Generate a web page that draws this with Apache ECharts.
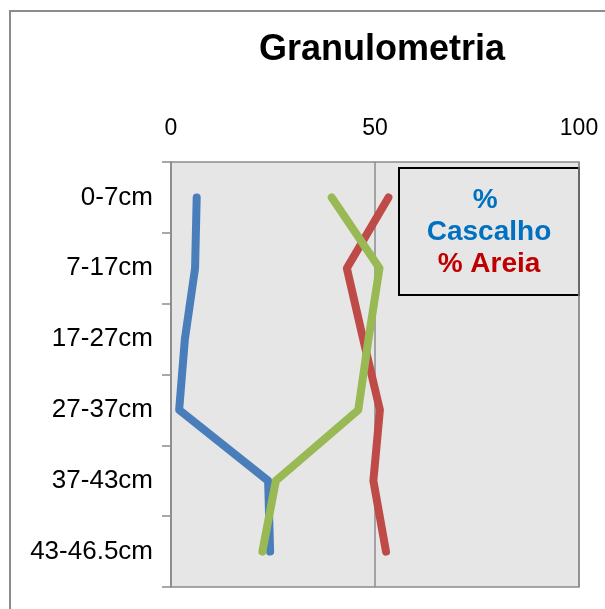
<!DOCTYPE html>
<html>
<head>
<meta charset="utf-8">
<script src="https://cdn.jsdelivr.net/npm/echarts@6/dist/echarts.min.js"></script>
<style>
  html, body { margin: 0; padding: 0; background: #fff; }
  #chart { width: 605px; height: 609px; }
</style>
</head>
<body>
<div id="chart"></div>
<script>
// Depth intervals of the soil profile (top to bottom)
const depths = ['0-7cm', '7-17cm', '17-27cm', '27-37cm', '37-43cm', '43-46.5cm'];

// Particle-size fractions (%) per depth interval
const cascalho = [6.3, 5.9, 3.4, 2.0, 23.8, 24.3];
const areia = [53.3, 43.1, 47.1, 51.2, 49.6, 52.7];
const silteArgila = [39.4, 51.1, 48.4, 45.9, 25.7, 22.4];

const xTicks = [0, 50, 100];

const seriesNames = ['% Cascalho', '% Areia', '% Silte+Argila'];
const lineColors = ['#4A7EBB', '#BE4B48', '#98B954'];
const keyColors = ['#0070C0', '#C00000'];

const FONT = '"Liberation Sans", Arial, sans-serif';

const chart = echarts.init(document.getElementById('chart'), null, { renderer: 'canvas' });

function lineSeries(name, data, color) {
  return {
    name: name,
    type: 'line',
    data: data,
    symbol: 'none',
    lineStyle: { color: color, width: 8, cap: 'round', join: 'round' },
    itemStyle: { color: color },
    z: 3
  };
}

chart.setOption({
  backgroundColor: '#ffffff',
  animation: false,
  title: {
    text: 'Granulometria',
    left: 377,
    top: 27,
    textAlign: 'center',
    textStyle: { fontFamily: FONT, fontSize: 36, fontWeight: 'bold', color: '#000' }
  },
  grid: {
    left: 171,
    top: 162,
    width: 408,
    height: 425,
    show: true,
    backgroundColor: '#E6E6E6',
    borderColor: '#8C8C8C',
    borderWidth: 1.5
  },
  xAxis: {
    type: 'value',
    position: 'top',
    min: xTicks[0],
    max: xTicks[xTicks.length - 1],
    interval: xTicks[1] - xTicks[0],
    axisLine: { show: false },
    axisTick: { show: false },
    axisLabel: {
      margin: 22,
      fontFamily: FONT,
      fontSize: 23,
      color: '#000'
    },
    splitLine: { show: true, lineStyle: { color: '#8C8C8C', width: 1.5 } }
  },
  yAxis: {
    type: 'category',
    data: depths,
    inverse: true,
    boundaryGap: true,
    axisLine: { show: true, lineStyle: { color: '#8C8C8C', width: 1.5 } },
    axisTick: { show: true, length: 9, inside: false, lineStyle: { color: '#8C8C8C', width: 1.5 } },
    axisLabel: {
      margin: 18,
      fontFamily: FONT,
      fontSize: 26,
      color: '#000'
    },
    splitLine: { show: false }
  },
  series: [
    lineSeries(seriesNames[0], cascalho, lineColors[0]),
    lineSeries(seriesNames[1], areia, lineColors[1]),
    lineSeries(seriesNames[2], silteArgila, lineColors[2])
  ],
  graphic: [
    {
      // outer chart frame
      type: 'rect',
      shape: { x: 10, y: 11, width: 800, height: 800 },
      style: { fill: 'none', stroke: '#8C8C8C', lineWidth: 2 },
      silent: true,
      z: 0
    },
    {
      // key box
      type: 'group',
      left: 398,
      top: 167,
      z: 10,
      children: [
        {
          type: 'rect',
          shape: { x: 0, y: 0, width: 180, height: 127 },
          style: { fill: '#E6E6E6', stroke: '#000', lineWidth: 2 }
        },
        {
          type: 'text',
          x: 90,
          y: 16,
          style: {
            text: seriesNames[0],
            width: 150,
            overflow: 'break',
            align: 'center',
            verticalAlign: 'top',
            lineHeight: 32,
            fill: keyColors[0],
            font: 'bold 28px ' + FONT
          }
        },
        {
          type: 'text',
          x: 90,
          y: 80,
          style: {
            text: seriesNames[1],
            align: 'center',
            verticalAlign: 'top',
            lineHeight: 32,
            fill: keyColors[1],
            font: 'bold 28px ' + FONT
          }
        }
      ]
    }
  ]
});
</script>
</body>
</html>
